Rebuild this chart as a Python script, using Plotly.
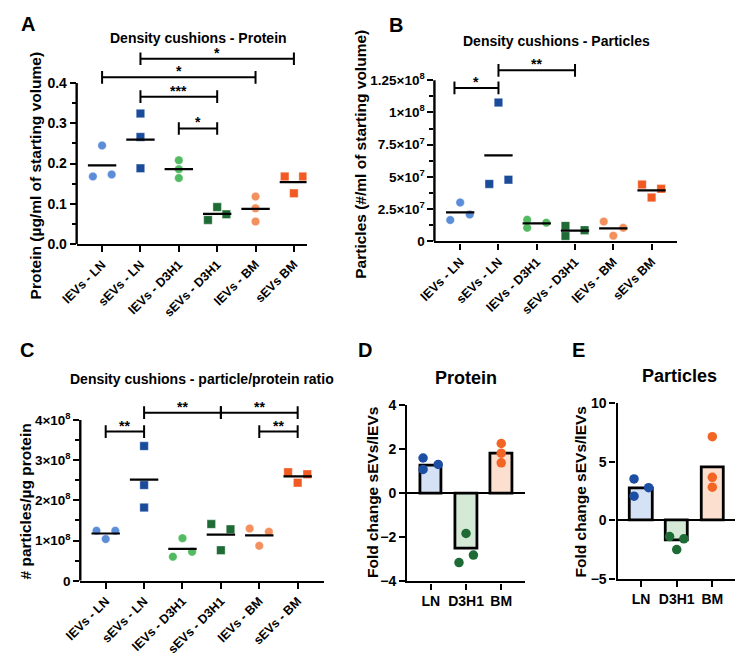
import plotly.graph_objects as go

W, H = 738, 660
FONT = "Liberation Sans, Arial, Helvetica, sans-serif"

# ---------------- data ----------------
GROUPS_AB = ["lEVs - LN", "sEVs - LN", "lEVs - D3H1", "sEVs - D3H1", "lEVs - BM", "sEVs BM"]
GROUPS_C = ["lEVs - LN", "sEVs - LN", "lEVs - D3H1", "sEVs - D3H1", "lEVs - BM", "sEVs - BM"]
SYMBOLS = ["circle", "square", "circle", "square", "circle", "square"]
COLORS = ["#5b8dd9", "#1b4c9c", "#52bb62", "#1f6b36", "#f3915e", "#f15a22"]

# A: protein (ug/ml of starting volume)
PROTEIN = [[0.168, 0.245, 0.173], [0.324, 0.266, 0.188], [0.208, 0.186, 0.164],
           [0.060, 0.092, 0.074], [0.118, 0.089, 0.056], [0.168, 0.126, 0.168]]
PROTEIN_JIT = [[-0.24, 0, 0.25], [0, 0, 0], [0, 0, 0],
               [-0.24, 0, 0.24], [0, 0, 0], [-0.24, 0, 0.24]]
PROTEIN_SIG = [(1, 5, 0.460, "*"), (0, 4, 0.414, "*"), (1, 3, 0.366, "***"), (2, 3, 0.287, "*")]

# B: particles (#/ml of starting volume)
PARTICLES = [[1.66e7, 3.02e7, 2.09e7], [4.46e7, 1.076e8, 4.79e7], [1.69e7, 1.06e7, 1.46e7],
             [1.21e7, 4.3e6, 8.8e6], [1.54e7, 4.5e6, 1.06e7], [4.41e7, 3.4e7, 4.08e7]]
PARTICLES_JIT = [[-0.26, 0, 0.25], [-0.24, 0, 0.26], [-0.25, -0.25, 0.25],
                 [-0.25, -0.25, 0.25], [-0.25, 0, 0.26], [-0.25, 0, 0.25]]
PARTICLES_SIG = [(-0.15, 1, 1.19e8, "*"), (1, 3, 1.326e8, "**")]

# C: particle/protein ratio
RATIO = [[1.245e8, 1.036e8, 1.245e8], [3.35e8, 2.38e8, 1.82e8], [1.06e8, 6.0e7, 7.2e7],
         [1.41e8, 1.28e8, 7.6e7], [1.30e8, 1.22e8, 8.7e7], [2.70e8, 2.65e8, 2.44e8]]
RATIO_JIT = [[-0.24, 0, 0.25], [0, 0, 0], [0, -0.25, 0.25],
             [-0.25, 0.25, 0], [-0.25, 0.25, 0], [-0.25, 0.25, 0]]
RATIO_SIG = [(0, 1, 3.71e8, "**"), (1, 3, 4.18e8, "**"), (3, 5, 4.18e8, "**"), (4, 5, 3.71e8, "**")]

# D / E: fold change sEVs/lEVs
FC_GROUPS = ["LN", "D3H1", "BM"]
FC_COLORS = ["#1c4ea3", "#1f6b36", "#f26524"]
FC_FILLS = ["#d5e1f4", "#d4ead7", "#fddfd0"]
FC_PROT_PTS = [[1.61, 1.09, 1.32], [-1.82, -3.14, -2.80], [2.27, 1.83, 1.39]]
FC_PROT_JIT = [[-0.22, -0.22, 0.21], [0, -0.2, 0.21], [0, 0, 0]]
FC_PROT_BAR = [1.29, -2.51, 1.80]
FC_PART_PTS = [[3.53, 2.06, 2.78], [-1.39, -1.58, -2.50], [7.14, 3.67, 2.83]]
FC_PART_JIT = [[-0.2, -0.2, 0.21], [-0.2, 0.2, 0], [0, 0, 0]]
FC_PART_BAR = [2.72, -1.72, 4.50]

# ---------------- geometry (pixels) ----------------
GEOM = {
    "A": dict(ax="", left=62, right=297, bottom=242, top=45, xr=(-0.663, 5.33), yr=(0, 0.477)),
    "B": dict(ax="2", left=427.7, right=676, bottom=239.3, top=55, xr=(-0.673, 5.673), yr=(0, 1.393e8)),
    "C": dict(ax="3", left=65.7, right=315, bottom=587, top=405, xr=(-0.662, 5.69), yr=(0, 4.417e8)),
    "D": dict(ax="4", left=400, right=520, bottom=587.7, top=407.3, xr=(-0.667, 2.667), yr=(-4, 4)),
    "E": dict(ax="5", left=615, right=735, bottom=585, top=405, xr=(-0.66, 2.64), yr=(-5, 10)),
}

fig = go.Figure()
shapes, annotations = [], []
LW = 2.4


def refs(key):
    a = GEOM[key]["ax"]
    return "x" + a, "y" + a


def axis_names(key):
    a = GEOM[key]["ax"]
    return "xaxis" + a, "yaxis" + a


def scatter_panel(key, groups, values, jitter, sig, ytickvals, yticktext, yminor, ytickfont):
    g = GEOM[key]
    xr_, yr_ = refs(key)
    for i, (vals, jit) in enumerate(zip(values, jitter)):
        fig.add_trace(go.Scatter(
            x=[i + j for j in jit], y=vals, mode="markers", xaxis=xr_, yaxis=yr_,
            marker=dict(symbol=SYMBOLS[i], size=8.5, color=COLORS[i],
                        line=dict(color="rgba(255,255,255,0.6)", width=0.6)),
            showlegend=False, hoverinfo="skip"))
    # mean lines
    mx, my = [], []
    for i, vals in enumerate(values):
        m = sum(vals) / len(vals)
        mx += [i - 0.37, i + 0.37, None]
        my += [m, m, None]
    fig.add_trace(go.Scatter(x=mx, y=my, mode="lines", xaxis=xr_, yaxis=yr_,
                             line=dict(color="black", width=2.2), showlegend=False, hoverinfo="skip"))
    # y axis line only up to top tick
    shapes.append(dict(type="line", xref=xr_ + " domain", yref=yr_, x0=0, x1=0,
                       y0=ytickvals[0], y1=ytickvals[-1], line=dict(color="black", width=LW)))
    # significance brackets
    ppu = (g["bottom"] - g["top"]) / (g["yr"][1] - g["yr"][0])
    d = 6.5 / ppu
    for x1, x2, y, s in sig:
        shapes.append(dict(type="line", xref=xr_, yref=yr_, x0=x1, x1=x2, y0=y, y1=y,
                           line=dict(color="black", width=2)))
        for xx in (x1, x2):
            shapes.append(dict(type="line", xref=xr_, yref=yr_, x0=xx, x1=xx, y0=y - d, y1=y + d,
                               line=dict(color="black", width=2)))
        annotations.append(dict(x=(x1 + x2) / 2, y=y, xref=xr_, yref=yr_, text=s, showarrow=False,
                                yanchor="bottom", yshift=-4, font=dict(size=14)))
    xa, ya = axis_names(key)
    fig.update_layout(**{
        xa: dict(domain=[g["left"] / W, g["right"] / W], range=list(g["xr"]), anchor=yr_,
                 tickmode="array", tickvals=list(range(len(groups))), ticktext=groups,
                 tickangle=-45, ticks="outside", ticklen=6, tickwidth=2, tickcolor="black",
                 showline=True, linecolor="black", linewidth=LW, showgrid=False, zeroline=False,
                 tickfont=dict(size=12.5)),
        ya: dict(domain=[1 - g["bottom"] / H, 1 - g["top"] / H], range=list(g["yr"]), anchor=xr_,
                 tickmode="array", tickvals=ytickvals, ticktext=yticktext,
                 ticks="outside", ticklen=6, tickwidth=2, tickcolor="black",
                 minor=dict(tickmode="array", tickvals=yminor, ticks="outside", ticklen=4,
                            tickwidth=2, tickcolor="black", showgrid=False),
                 showline=False, showgrid=False, zeroline=False, tickfont=dict(size=ytickfont)),
    })


def fc_panel(key, pts, jit, bars, ytickvals):
    g = GEOM[key]
    xr_, yr_ = refs(key)
    fig.add_trace(go.Bar(x=list(range(len(FC_GROUPS))), y=bars, width=0.62, xaxis=xr_, yaxis=yr_,
                         marker=dict(color=FC_FILLS, line=dict(color="black", width=2.8)),
                         showlegend=False, hoverinfo="skip"))
    for i, (vals, jj) in enumerate(zip(pts, jit)):
        fig.add_trace(go.Scatter(x=[i + j for j in jj], y=vals, mode="markers", xaxis=xr_, yaxis=yr_,
                                 marker=dict(size=9.5, color=FC_COLORS[i]), showlegend=False,
                                 hoverinfo="skip"))
    xa, ya = axis_names(key)
    fig.update_layout(**{
        xa: dict(domain=[g["left"] / W, g["right"] / W], range=list(g["xr"]), anchor=yr_,
                 tickmode="array", tickvals=list(range(len(FC_GROUPS))), ticktext=FC_GROUPS,
                 ticks="outside", ticklen=6, tickwidth=2, tickcolor="black",
                 showline=True, linecolor="black", linewidth=LW, showgrid=False, zeroline=False,
                 tickfont=dict(size=14)),
        ya: dict(domain=[1 - g["bottom"] / H, 1 - g["top"] / H], range=list(g["yr"]), anchor=xr_,
                 tickmode="array", tickvals=ytickvals, ticks="outside", ticklen=6, tickwidth=2,
                 tickcolor="black", showline=True, linecolor="black", linewidth=LW,
                 showgrid=False, zeroline=True, zerolinecolor="black", zerolinewidth=2.2,
                 tickfont=dict(size=14)),
    })


scatter_panel("A", GROUPS_AB, PROTEIN, PROTEIN_JIT, PROTEIN_SIG,
              [0, 0.1, 0.2, 0.3, 0.4], ["0.0", "0.1", "0.2", "0.3", "0.4"],
              [0.05, 0.15, 0.25, 0.35], 14)
scatter_panel("B", GROUPS_AB, PARTICLES, PARTICLES_JIT, PARTICLES_SIG,
              [0, 2.5e7, 5e7, 7.5e7, 1e8, 1.25e8],
              ["0", "2.5×10<sup>7</sup>", "5×10<sup>7</sup>", "7.5×10<sup>7</sup>",
               "1×10<sup>8</sup>", "1.25×10<sup>8</sup>"],
              [1.25e7, 3.75e7, 6.25e7, 8.75e7, 1.125e8], 13.5)
scatter_panel("C", GROUPS_C, RATIO, RATIO_JIT, RATIO_SIG,
              [0, 1e8, 2e8, 3e8, 4e8],
              ["0", "1×10<sup>8</sup>", "2×10<sup>8</sup>", "3×10<sup>8</sup>", "4×10<sup>8</sup>"],
              [0.5e8, 1.5e8, 2.5e8, 3.5e8], 13.5)
fc_panel("D", FC_PROT_PTS, FC_PROT_JIT, FC_PROT_BAR, [-4, -2, 0, 2, 4])
fc_panel("E", FC_PART_PTS, FC_PART_JIT, FC_PART_BAR, [-5, 0, 5, 10])


def text_px(x, y, text, size, angle=0):
    annotations.append(dict(x=x / W, y=1 - y / H, xref="paper", yref="paper", text=text,
                            showarrow=False, textangle=angle, font=dict(size=size),
                            xanchor="center", yanchor="middle"))


# panel letters
text_px(12, 16, "A", 20)
text_px(388, 17, "B", 20)
text_px(11, 350, "C", 20)
text_px(357, 350, "D", 20)
text_px(575, 351, "E", 20)
# titles
text_px(187, 31, "Density cushions - Protein", 14)
text_px(552, 34, "Density cushions - Particles", 14)
text_px(190, 380, "Density cushions - particle/protein ratio", 14)
text_px(460, 379, "Protein", 18)
text_px(678, 377, "Particles", 18)
# y titles
text_px(20, 172, "Protein (µg/ml of starting volume)", 15.5, -90)
text_px(352, 150, "Particles (#/ml of starting volume)", 15.5, -90)
text_px(10, 506, "# particles/µg protein", 15.5, -90)
text_px(365, 497, "Fold change sEVs/lEVs", 15.5, -90)
text_px(577, 496, "Fold change sEVs/lEVs", 15.5, -90)

fig.update_layout(
    width=W, height=H, margin=dict(l=0, r=0, t=0, b=0),
    paper_bgcolor="white", plot_bgcolor="white",
    font=dict(family=FONT, color="black", size=12, weight="bold"),
    shapes=shapes, annotations=annotations, showlegend=False, bargap=0,
)

fig.write_html("out.html", config={"displayModeBar": False},
               post_script="document.body.style.margin='0px';document.body.style.overflow='hidden';")
